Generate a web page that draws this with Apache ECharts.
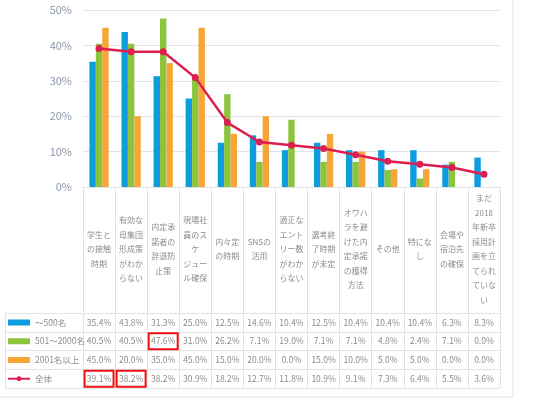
<!DOCTYPE html>
<html>
<head>
<meta charset="utf-8">
<script src="https://cdn.jsdelivr.net/npm/echarts@6/dist/echarts.min.js"></script>
<style>html,body{margin:0;padding:0;background:#fff}#c{width:540px;height:400px}</style>
</head>
<body>
<div id="c"></div>
<script>
const categories = [
  '学生と\nの接触\n時期',
  '有効な\n母集団\n形成策\nがわか\nらない',
  '内定承\n諾者の\n辞退防\n止策',
  '現場社\n員のス\nケ\nジュー\nル確保',
  '内々定\nの時期',
  'SNSの\n活用',
  '適正な\nエント\nリー数\nがわか\nらない',
  '選考終\n了時期\nが未定',
  'オワハ\nラを避\nけた内\n定承諾\nの獲得\n方法',
  'その他',
  '特にな\nし',
  '会場や\n宿泊先\nの確保',
  'まだ\n2018\n年新卒\n採用計\n画を立\nてられ\nていな\nい'
];
const seriesNames = ['～500名', '501～2000名', '2001名以上', '全体'];
const small = [35.4, 43.8, 31.3, 25.0, 12.5, 14.6, 10.4, 12.5, 10.4, 10.4, 10.4, 6.3, 8.3];
const mid   = [40.5, 40.5, 47.6, 31.0, 26.2, 7.1, 19.0, 7.1, 7.1, 4.8, 2.4, 7.1, 0.0];
const large = [45.0, 20.0, 35.0, 45.0, 15.0, 20.0, 0.0, 15.0, 10.0, 5.0, 5.0, 0.0, 0.0];
const total = [39.1, 38.2, 38.2, 30.9, 18.2, 12.7, 11.8, 10.9, 9.1, 7.3, 6.4, 5.5, 3.6];
const rows = [small, mid, large, total];
// highlighted table cells [row, column]
const highlighted = [[1, 2], [3, 0], [3, 1]];

const colors = ['#0b9de0', '#8cc43d', '#f6a638', '#dc1f50'];
const txt = '#8c8c8c';
const lineC = '#e1e3ea';
const font = "'Noto Sans CJK JP', 'Noto Sans', sans-serif";

const gridTop = 10, gridBottomY = 187, rowTop = 313, rowH = 18.75;

const rowAxes = rows.map((vals, r) => ({
  type: 'category',
  gridIndex: 0,
  position: 'bottom',
  offset: rowTop + rowH * (r + 0.5) - gridBottomY,
  data: categories,
  axisLine: { show: false, onZero: false },
  axisTick: { show: false },
  splitLine: { show: false },
  axisLabel: {
    interval: 0,
    margin: 0,
    verticalAlign: 'middle',
    formatter: (v, i) => {
      const s = vals[i].toFixed(1) + '%';
      const hl = highlighted.some(h => h[0] === r && h[1] === i);
      return hl ? '{hl|' + s + '}' : '{n|' + s + '}';
    },
    rich: {
      n: { color: txt, fontSize: 8.5, fontFamily: font },
      hl: { color: txt, fontSize: 8.5, fontFamily: font, width: 29, height: 16, align: 'center',
            borderColor: '#ee1111', borderWidth: 2 }
    }
  }
}));

const chart = echarts.init(document.getElementById('c'));
chart.setOption({
  animation: false,
  textStyle: { fontFamily: font },
  graphic: [{ type: 'rect', silent: true, shape: { x: -2, y: -2, width: 515, height: 399 },
              style: { fill: 'none', stroke: '#e4e4e4', lineWidth: 1 } }],
  legend: {
    orient: 'vertical', left: 7, top: 316.5, padding: 0, itemGap: 6.75,
    itemWidth: 22, itemHeight: 6,
    textStyle: { color: txt, fontSize: 8.5, lineHeight: 12, fontFamily: font },
    data: [
      { name: seriesNames[0], icon: 'rect' },
      { name: seriesNames[1], icon: 'rect' },
      { name: seriesNames[2], icon: 'rect' },
      { name: seriesNames[3] }
    ]
  },
  grid: [
    { left: 83, top: gridTop, width: 417, height: gridBottomY - gridTop },
    { left: 5, top: rowTop, width: 495, height: rowH * 4 }
  ],
  xAxis: [
    {
      type: 'category', gridIndex: 0, data: categories,
      axisLine: { lineStyle: { color: lineC } },
      axisTick: { show: true, length: rowTop + rowH * 4 - gridBottomY, lineStyle: { color: lineC } },
      axisLabel: { interval: 0, margin: 62, verticalAlign: 'middle', color: txt, fontSize: 8,
                   lineHeight: 14.5, fontFamily: font }
    },
    ...rowAxes,
    { type: 'value', gridIndex: 1, show: false, min: 0, max: 1 }
  ],
  yAxis: [
    {
      type: 'value', gridIndex: 0, min: 0, max: 50, interval: 10,
      axisLine: { show: false }, axisTick: { show: false },
      axisLabel: { formatter: '{value}%', color: '#8a98aa', fontSize: 11, margin: 11, fontFamily: font },
      splitLine: { lineStyle: { color: lineC } }
    },
    {
      type: 'value', gridIndex: 1, min: 0, max: 4, interval: 1, inverse: true,
      axisLine: { show: true, onZero: false, lineStyle: { color: lineC } },
      axisTick: { show: false }, axisLabel: { show: false },
      splitLine: { show: true, lineStyle: { color: lineC } }
    }
  ],
  series: [
    { name: seriesNames[0], type: 'bar', data: small, itemStyle: { color: colors[0] }, barGap: '0%', barCategoryGap: '40%' },
    { name: seriesNames[1], type: 'bar', data: mid, itemStyle: { color: colors[1] }, barGap: '0%', barCategoryGap: '40%' },
    { name: seriesNames[2], type: 'bar', data: large, itemStyle: { color: colors[2] }, barGap: '0%', barCategoryGap: '40%' },
    { name: seriesNames[3], type: 'line', data: total, z: 5,
      symbol: 'circle', symbolSize: 7,
      lineStyle: { color: colors[3], width: 2.5 }, itemStyle: { color: colors[3] } }
  ]
});
</script>
</body>
</html>
